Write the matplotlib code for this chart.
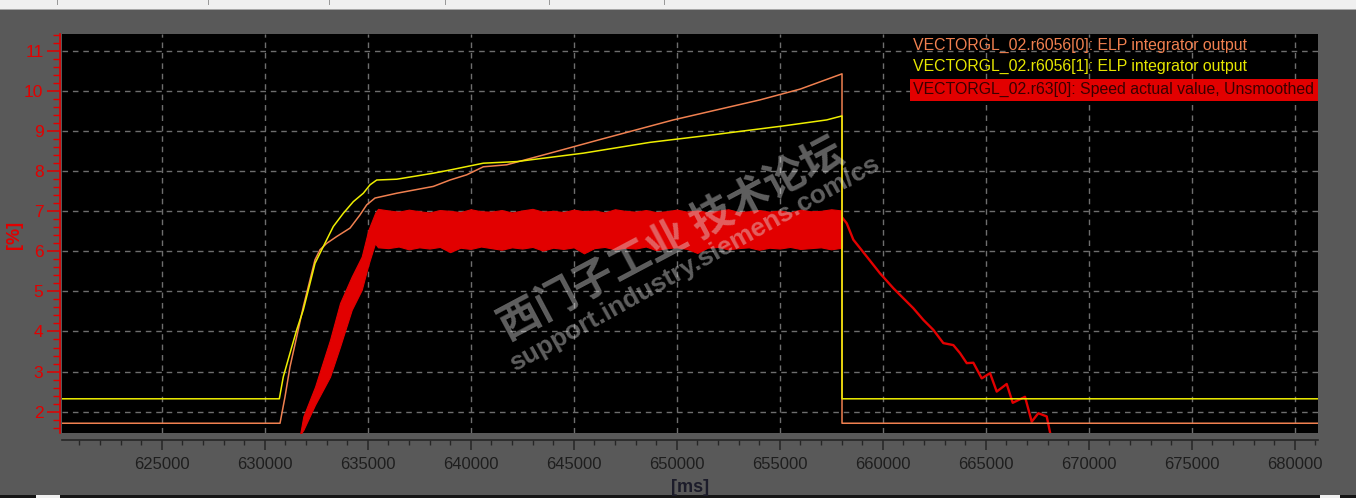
import matplotlib.pyplot as plt
from matplotlib.patches import Rectangle
from matplotlib.ticker import MultipleLocator
import numpy as np

plt.rcParams['font.family'] = ['Liberation Sans', 'DejaVu Sans']

W, H = 1356, 498

# r6056[0] ELP integrator output (orange)
orange_t = [620000, 630743, 630986, 631228, 631553, 631874, 632199, 632442, 632685, 633010,
            633495, 634141, 634626, 634951, 635354, 636408, 638184, 638995, 639806, 640612,
            641748, 643850, 646277, 649835, 654044, 656000, 658024, 658024, 682000]
orange_v = [1.71, 1.71, 2.37, 3.12, 3.87, 4.62, 5.29, 5.79, 6.04, 6.20,
            6.37, 6.58, 6.91, 7.16, 7.33, 7.45, 7.62, 7.78, 7.91, 8.11,
            8.16, 8.45, 8.79, 9.28, 9.78, 10.05, 10.43, 1.71, 1.71]

# r6056[1] ELP integrator output (yellow)
yellow_t = [620000, 630709, 630903, 631228, 631553, 631874, 632199, 632442, 632845, 633330,
            633816, 634301, 634787, 635112, 635437, 636408, 638184, 638995, 640612, 642233,
            645466, 648704, 651942, 655175, 657282, 658024, 658024, 682000]
yellow_v = [2.32, 2.32, 2.87, 3.46, 4.04, 4.54, 5.20, 5.70, 6.12, 6.62,
            6.95, 7.24, 7.45, 7.66, 7.78, 7.80, 7.95, 8.03, 8.20, 8.24,
            8.45, 8.72, 8.92, 9.13, 9.28, 9.38, 2.32, 2.32]

# r63[0] speed actual value, unsmoothed (red) - noisy part as upper/lower envelope
red_t = [631713, 631874, 632442, 633170, 633656, 634223, 634709, 635029, 635354,
         635500, 636000, 636500, 637000, 637500, 638000, 638500, 639000, 639500, 640000,
         640500, 641000, 641500, 642000, 642500, 643000, 643500, 644000, 644500, 645000,
         645500, 646000, 646500, 647000, 647500, 648000, 648500, 649000, 649500, 650000,
         650500, 651000, 651500, 652000, 652500, 653000, 653500, 654000, 654500, 655000,
         655500, 656000, 656500, 657000, 657500, 658000, 658024]
red_hi = [1.42, 1.88, 2.62, 3.79, 4.71, 5.37, 5.87, 6.53, 6.95,
          7.06, 7.02, 6.99, 7.04, 7.00, 6.97, 7.03, 7.01, 6.98, 7.05,
          7.00, 6.99, 7.03, 6.97, 7.02, 7.06, 6.99, 7.01, 6.98, 7.04,
          7.00, 7.02, 6.97, 7.05, 7.01, 6.99, 7.03, 6.98, 7.00, 7.04,
          6.99, 7.02, 6.98, 7.01, 7.05, 6.98, 7.00, 7.03, 6.99, 7.02,
          6.97, 7.04, 7.00, 7.01, 7.05, 7.02, 7.00]
red_lo = [1.42, 1.54, 2.17, 2.87, 3.62, 4.54, 5.04, 5.66, 6.20,
          6.10, 6.08, 6.12, 6.05, 6.10, 6.07, 6.11, 5.98, 6.09, 6.06,
          6.12, 6.08, 6.04, 6.10, 6.07, 6.11, 6.02, 6.09, 6.06, 6.10,
          5.95, 6.08, 6.11, 6.05, 6.09, 6.07, 6.12, 6.03, 6.08, 6.10,
          6.06, 5.96, 6.09, 6.11, 6.05, 6.08, 6.10, 6.04, 6.09, 6.07,
          6.11, 6.06, 6.08, 6.10, 6.05, 6.09, 6.10]
# braking part after the pulse inhibit
decel_t = [658024, 658253, 658574, 659224, 659870, 660515, 661000, 661486, 661971, 662457,
           662942, 663428, 663752, 664078, 664399, 664807, 665210, 665534, 666019, 666311,
           666908, 667233, 667553, 667961, 668155]
decel_v = [6.85, 6.70, 6.29, 5.87, 5.45, 5.08, 4.83, 4.58, 4.29, 4.04,
           3.71, 3.66, 3.46, 3.21, 3.22, 2.83, 2.96, 2.50, 2.69, 2.22,
           2.37, 1.75, 1.96, 1.88, 1.40]

legend_labels = ['VECTORGL_02.r6056[0]: ELP integrator output',
                 'VECTORGL_02.r6056[1]: ELP integrator output',
                 'VECTORGL_02.r63[0]: Speed actual value, Unsmoothed']

c_orange = '#f08050'
c_yellow = '#eeee00'
c_red = '#e20000'


def fx(px):
    return px / W


def fy(py):
    return 1 - py / H


fig = plt.figure(figsize=(W / 100, H / 100), dpi=100, facecolor='#595959')

# window chrome: tab strip on top, scroll bar at the bottom
fig.patches.append(Rectangle((0, fy(9)), 1, 9 / H, transform=fig.transFigure,
                             facecolor='#f0f0f0', edgecolor='none'))
fig.patches.append(Rectangle((0, fy(10.5)), 1, 1.5 / H, transform=fig.transFigure,
                             facecolor='#a8a8a8', edgecolor='none'))
for sx in [57, 208, 329, 445, 549, 664]:
    fig.patches.append(Rectangle((fx(sx), fy(5)), 1.2 / W, 5 / H, transform=fig.transFigure,
                                 facecolor='#9a9a9a', edgecolor='none'))
fig.patches.append(Rectangle((0, 0), 1, 3 / H, transform=fig.transFigure,
                             facecolor='#151515', edgecolor='none'))
fig.patches.append(Rectangle((fx(36), 0), 24 / W, 3 / H, transform=fig.transFigure,
                             facecolor='#f0f0f0', edgecolor='none'))
fig.patches.append(Rectangle((fx(1320), 0), 20 / W, 3 / H, transform=fig.transFigure,
                             facecolor='#f0f0f0', edgecolor='none'))

ax = fig.add_axes([fx(62), fy(433.3), (1318 - 62) / W, (433.3 - 34) / H])
ax.set_facecolor('black')

ax.fill_between(red_t, red_lo, red_hi, color=c_red, linewidth=0.8,
                edgecolor=c_red, zorder=3)
ax.plot(decel_t, decel_v, color=c_red, lw=1.7, zorder=3)
ax.plot(orange_t, orange_v, color=c_orange, lw=1.1, zorder=4)
ax.plot(yellow_t, yellow_v, color=c_yellow, lw=1.1, zorder=5)

ax.set_xlim(620160, 681130)
ax.set_ylim(1.459, 11.424)

xt = list(range(625000, 680001, 5000))
ax.set_xticks(xt)
ax.set_xticklabels([str(v) for v in xt])
ax.xaxis.set_minor_locator(MultipleLocator(1000))
ax.set_yticks(range(2, 12))
ax.set_yticklabels([str(v) for v in range(2, 12)])
ax.yaxis.set_minor_locator(MultipleLocator(0.2))

ax.grid(True, which='major', color='#6e6e6e', linestyle=(0, (4, 3.5)), linewidth=1.0, zorder=1)
ax.set_axisbelow(True)

for s in ['top', 'right']:
    ax.spines[s].set_visible(False)
ax.spines['left'].set_position(('outward', 1.5))
ax.spines['left'].set_color(c_red)
ax.spines['left'].set_linewidth(1.2)
ax.spines['bottom'].set_position(('outward', 4.8))
ax.spines['bottom'].set_color('#262626')
ax.spines['bottom'].set_linewidth(1.2)

ax.tick_params(axis='y', which='major', length=9.4, width=1.1, color=c_red, labelcolor=c_red,
               labelsize=12.5, pad=2.5)
ax.tick_params(axis='y', which='minor', length=4.8, width=1.0, color=c_red)
ax.tick_params(axis='x', which='major', length=7.2, width=1.1, color='#262626', labelcolor='#1e1e1e',
               labelsize=12, pad=5)
ax.tick_params(axis='x', which='minor', length=3.6, width=1.0, color='#262626')

fig.text(fx(14), fy(235), '[%]', rotation=90, color=c_red, fontsize=13, fontweight='bold',
         ha='center', va='center')
fig.text(fx(690), fy(487), '[ms]', color='#1c1c2a', fontsize=13, fontweight='bold',
         ha='center', va='center')

# legend block in the upper right corner
fig.patches.append(Rectangle((fx(910), fy(101)), (1318 - 910) / W, 22 / H, transform=fig.transFigure,
                             facecolor=c_red, edgecolor='none', zorder=6))
for lab, col, py in zip(legend_labels, [c_orange, '#e6e600', '#3a0000'], [45, 66.5, 89.5]):
    fig.text(fx(913), fy(py), lab, color=col, fontsize=11.45, ha='left', va='center', zorder=7)

# forum watermark
ax.text(0.4853, 0.4828, '西门子工业 技术论坛', transform=ax.transAxes, rotation=28,
        rotation_mode='anchor', ha='center', va='center', fontsize=30, fontweight='bold',
        family=['Noto Sans CJK SC', 'DejaVu Sans'], color='#e4e4e4', alpha=0.42, zorder=10)
ax.text(0.5040, 0.4252, 'support.industry.siemens.com/cs', transform=ax.transAxes, rotation=29,
        rotation_mode='anchor', ha='center', va='center', fontsize=19, fontweight='bold',
        color='#e4e4e4', alpha=0.42, zorder=10)

fig.savefig('out.png', dpi=100, facecolor=fig.get_facecolor())
